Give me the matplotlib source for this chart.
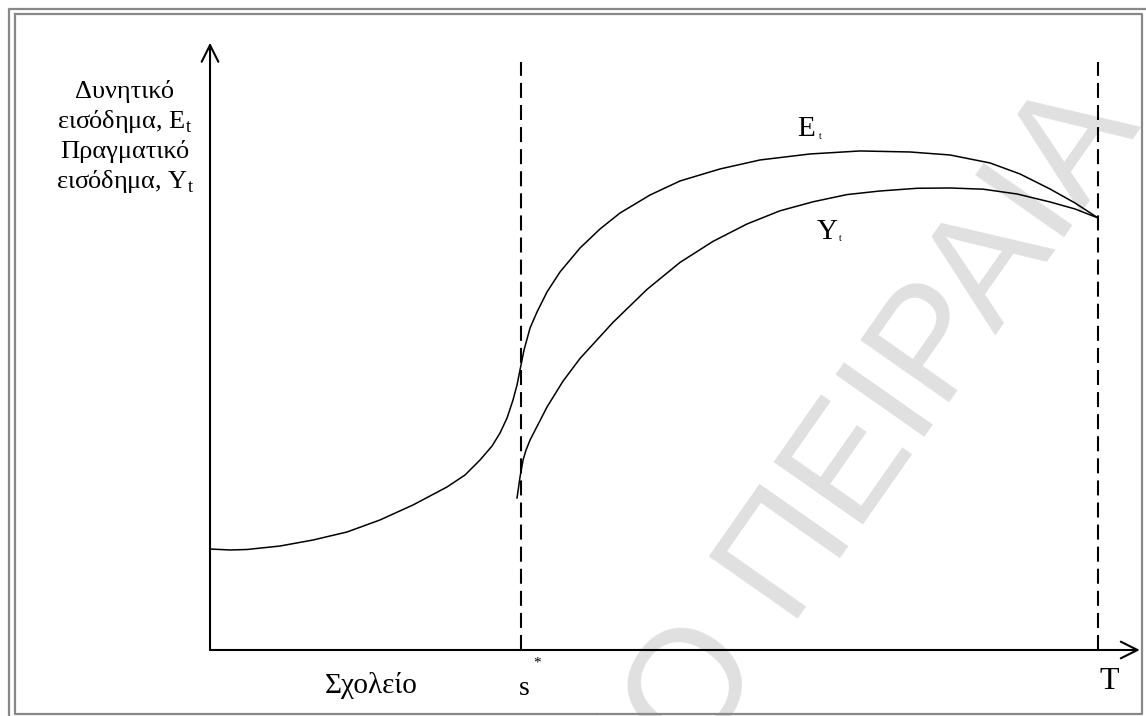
import matplotlib
matplotlib.use("Agg")
import matplotlib.pyplot as plt

plt.rcParams['font.family'] = ['Liberation Serif', 'DejaVu Serif']
plt.rcParams['mathtext.fontset'] = 'custom'
plt.rcParams['mathtext.rm'] = 'Liberation Serif'

# diagram units: x = 0 at origin, s* = 35, T = 100 ; y = income level
s_star = 35
T = 100

# potential income E_t
et_x = [0, 2.25, 4.17, 7.88, 11.6, 15.43, 19.14, 22.86, 26.69, 28.72, 30.41, 31.76,
        32.66, 33.45, 34.12, 34.57, 35.02, 35.36, 36.04, 36.82, 37.95, 39.41, 41.67,
        43.92, 46.17, 49.55, 52.93, 57.43, 61.94, 67.57, 73.2, 78.83, 83.33, 87.84,
        91.22, 94.59, 97.41, 100]
et_y = [16.83, 16.67, 16.75, 17.33, 18.33, 19.67, 21.67, 24.17, 27.17, 29.17, 31.67,
        34.0, 36.17, 38.67, 41.67, 44.17, 47.5, 50.0, 53.67, 56.33, 59.67, 63.0, 67.0,
        70.17, 72.83, 75.83, 78.17, 80.17, 81.67, 82.67, 83.17, 83.0, 82.5, 81.17,
        79.33, 76.83, 74.5, 72.0]

# actual income Y_t
yt_x = [34.57, 34.91, 35.25, 35.59, 36.04, 37.95, 39.75, 41.67, 45.38, 49.21, 52.93,
        56.64, 60.47, 64.19, 67.91, 71.73, 75.45, 79.62, 83.33, 87.05, 90.88, 94.59,
        97.41, 100]
yt_y = [25.33, 28.83, 31.67, 33.33, 35.0, 40.5, 44.8, 48.6, 54.6, 60.1, 64.6,
        68.1, 71.0, 73.2, 74.7, 75.9, 76.5, 76.95, 77.0, 76.8, 76.0, 74.67,
        73.5, 72.0]

y_label_lines = ["Δυνητικό", r"εισόδημα, E$_\mathregular{t}$",
                 "Πραγματικό", r"εισόδημα, Y$_\mathregular{t}$"]

W, H = 1146, 716
fig = plt.figure(figsize=(W / 100, H / 100), dpi=100)

# background layer: page frame + watermark (pixel coords)
frame = fig.add_axes([0, 0, 1, 1])
frame.set_xlim(0, W)
frame.set_ylim(H, 0)
frame.axis("off")
grey = "#888888"
frame.plot([9, 9, W + 5], [H + 5, 9, 9], color=grey, lw=1.6)
frame.plot([15, 15, 1142, 1142, 15], [14, 714, 714, 14, 14], color=grey, lw=1.6)
frame.text(1142, 126, "ΠΑΝΕΠΙΣΤΗΜΙΟ ΠΕΙΡΑΙΑ", family="Liberation Sans", fontsize=114,
           color="#e0e0e0", rotation=55, rotation_mode="anchor",
           ha="right", va="baseline", zorder=0, clip_on=True)

ax = fig.add_axes([0, 0, 1, 1])
ax.patch.set_alpha(0)
ax.set_xlim(-23.65, 105.4)
ax.set_ylim(-11, 108.33)
ax.axis("off")

# axes with arrows
arrow = dict(arrowstyle="->,head_length=1.2,head_width=0.6", lw=1.5, color="black",
             shrinkA=0, shrinkB=0)
ax.annotate("", xy=(0, 101.2), xytext=(0, 0), arrowprops=arrow)
ax.annotate("", xy=(104.7, 0), xytext=(0, 0), arrowprops=arrow)

# dashed verticals at s* and T
ax.plot([s_star, s_star], [0, 98], color="black", lw=1.5, ls=(0, (7.2, 3.4)))
ax.plot([T, T], [0, 98], color="black", lw=1.5, ls=(0, (7.2, 3.4)))

ax.plot(et_x, et_y, color="black", lw=1.1, solid_joinstyle="round")
ax.plot(yt_x, yt_y, color="black", lw=1.1, solid_joinstyle="round")

# y axis label
for i, line in enumerate(y_label_lines):
    ax.text(-9.6, 93.0 - i * 5.0, line, fontsize=19, ha="center", va="center")

# curve labels
ax.text(67.1, 86.8, "E", fontsize=21, ha="center", va="center")
ax.text(68.7, 85.6, "t", fontsize=7, ha="center", va="center")
ax.text(69.5, 69.7, "Y", fontsize=21, ha="center", va="center")
ax.text(71.0, 68.6, "t", fontsize=7, ha="center", va="center")

# x axis labels
ax.text(18.2, -6.0, "Σχολείο", fontsize=21, ha="center", va="center")
ax.text(s_star + 0.4, -6.4, "s", fontsize=20, ha="center", va="center")
ax.text(s_star + 1.8, -2.1, "*", fontsize=11, ha="center", va="center")
ax.text(T + 1.3, -5.3, "T", fontsize=23, ha="center", va="center")

fig.savefig("out.png", dpi=100)
